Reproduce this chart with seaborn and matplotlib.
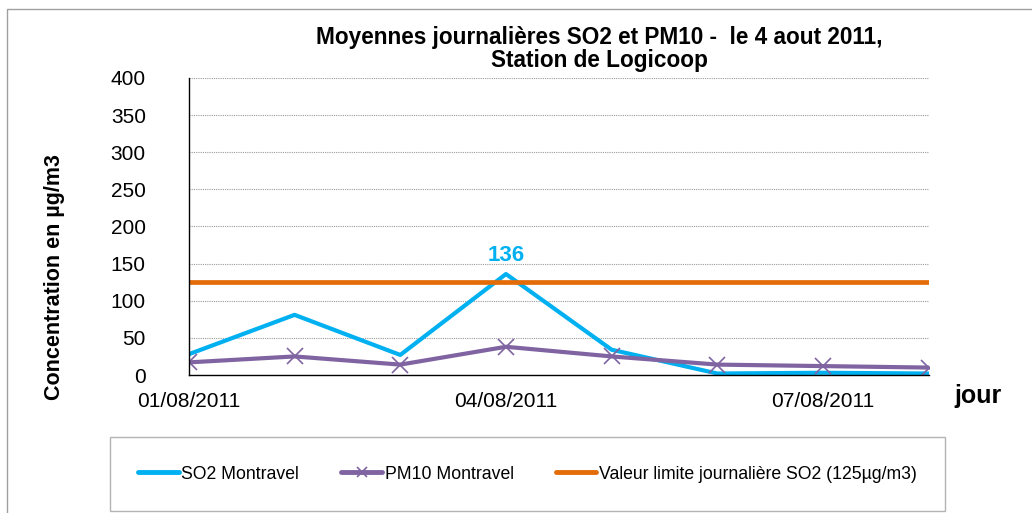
import numpy as np
import pandas as pd
import seaborn as sns
import matplotlib.pyplot as plt
from matplotlib.patches import Rectangle

sns.set_style("white")
plt.rcParams['font.family'] = ['Liberation Sans', 'DejaVu Sans']
plt.rcParams['text.color'] = 'black'
plt.rcParams['axes.labelcolor'] = 'black'

# Data
dates = ["01/08/2011", "02/08/2011", "03/08/2011", "04/08/2011",
         "05/08/2011", "06/08/2011", "07/08/2011", "08/08/2011"]
so2 = [28, 81, 27, 136, 34, 2, 3, 2]
pm10 = [17, 25, 14, 38, 25, 14, 12, 10]
limit_so2 = 125

idx = np.arange(len(dates))
df = pd.DataFrame({"day": idx, "SO2 Montravel": so2, "PM10 Montravel": pm10,
                   "limite": [limit_so2] * len(dates)})

c_so2 = "#00B0F0"
c_pm = "#8064A2"
c_lim = "#E36C09"

fig = plt.figure(figsize=(10.32, 5.13), dpi=100)
ax = fig.add_axes([0.183, 0.269, 0.717, 0.579])

sns.lineplot(data=df, x="day", y="SO2 Montravel", color=c_so2, lw=3.0,
             label="SO2 Montravel", ax=ax)
sns.lineplot(data=df, x="day", y="PM10 Montravel", color=c_pm, lw=3.0,
             marker="x", markersize=11, markeredgewidth=1.2, markeredgecolor=c_pm,
             label="PM10 Montravel", ax=ax)
sns.lineplot(data=df, x="day", y="limite", color=c_lim, lw=3.4,
             label="Valeur limite journalière SO2 (125µg/m3)", ax=ax)

# max annotation
imax = int(np.argmax(so2))
ax.annotate(str(so2[imax]), (idx[imax], so2[imax]), xytext=(0, 6),
            textcoords="offset points", ha="center", va="bottom",
            color=c_so2, fontsize=16, fontweight="bold")

ax.set_xlim(0, len(dates) - 1)
ax.set_ylim(0, 400)
ax.set_yticks(range(0, 401, 50))
ax.set_xticks(idx)
ax.set_xticklabels([d if i % 3 == 0 else "" for i, d in enumerate(dates)])
ax.tick_params(axis="both", labelsize=15, length=5, width=0.8, color="#8c8c8c",
               labelcolor="black")
ax.tick_params(axis="y", pad=26)
ax.tick_params(axis="x", pad=7.5)
ax.yaxis.grid(True, color="#9a9a9a", lw=0.8, ls=(0, (1, 1)))
for s in ["top", "right"]:
    ax.spines[s].set_visible(False)
for s in ["left", "bottom"]:
    ax.spines[s].set_color("black")
    ax.spines[s].set_linewidth(1.0)
ax.set_axisbelow(True)

ax.set_xlabel("")
ax.set_ylabel("Concentration en µg/m3", fontsize=15.5, fontweight="bold")
ax.yaxis.set_label_coords(-0.167, 0.33)
fig.text(0.948, 0.228, "jour", fontsize=18, fontweight="bold", ha="center", va="center")

ax.set_title("Moyennes journalières SO2 et PM10 -  le 4 aout 2011,\nStation de Logicoop",
             fontsize=16.3, fontweight="bold", pad=8, x=0.555, linespacing=1.0)

leg = ax.legend(loc="center", bbox_to_anchor=(0.1066, 0.008, 0.8091, 0.136),
                bbox_transform=fig.transFigure, mode="expand",
                ncol=3, frameon=True, fontsize=12.7, handlelength=2.3, columnspacing=1.0,
                borderpad=1.6, fancybox=False, handletextpad=0.15, borderaxespad=0)
leg.get_frame().set_edgecolor("#a0a0a0")
leg.get_frame().set_linewidth(1.0)
for h in leg.legend_handles:
    h.set_linewidth(3.5)
    h.set_markersize(7)

# chart area border
fig.patches.append(Rectangle((7 / 1032, -0.05), 1.05, 1 - 9 / 513 + 0.05,
                             transform=fig.transFigure, fill=False,
                             edgecolor="#a0a0a0", lw=1.0))

fig.savefig("out.png", dpi=100)
plt.close(fig)
